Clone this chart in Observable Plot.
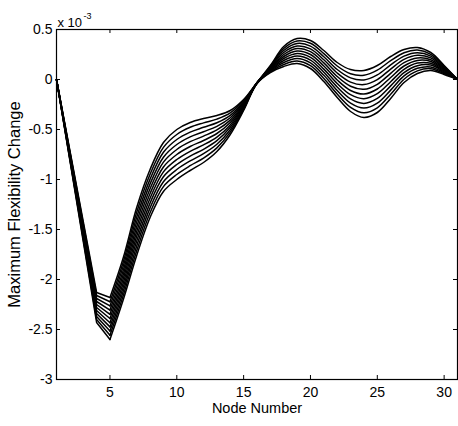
<!DOCTYPE html>
<html><head><meta charset="utf-8">
<script src="https://cdn.jsdelivr.net/npm/d3@7"></script>
<script src="https://cdn.jsdelivr.net/npm/@observablehq/plot@0.6"></script>
<style>body{margin:0;background:#fff}</style>
</head><body><div id="chart"></div>
<script>
const nodes = [1,2,3,4,5,6,7,8,9,10,11,12,13,14,15,16,17,18,19,20,21,22,23,24,25,26,27,28,29,30,31];
const s0  = [0,-0.71,-1.42,-2.13,-2.18,-1.78,-1.28,-0.90,-0.63,-0.50,-0.43,-0.39,-0.36,-0.31,-0.20,-0.03,0.14,0.33,0.41,0.39,0.29,0.17,0.10,0.09,0.14,0.23,0.30,0.32,0.27,0.14,0];
const s1  = [0,-0.72,-1.44,-2.16,-2.222,-1.822,-1.328,-0.948,-0.679,-0.55,-0.478,-0.434,-0.396,-0.334,-0.211,-0.031,0.133,0.31,0.385,0.362,0.259,0.135,0.058,0.043,0.093,0.188,0.267,0.294,0.252,0.131,0];
const s2  = [0,-0.73,-1.46,-2.19,-2.264,-1.864,-1.376,-0.996,-0.728,-0.60,-0.526,-0.478,-0.432,-0.358,-0.222,-0.032,0.126,0.29,0.36,0.334,0.228,0.10,0.016,-0.004,0.046,0.146,0.234,0.268,0.234,0.122,0];
const s3  = [0,-0.74,-1.48,-2.22,-2.306,-1.906,-1.424,-1.044,-0.777,-0.65,-0.574,-0.522,-0.468,-0.382,-0.233,-0.033,0.119,0.27,0.335,0.306,0.197,0.065,-0.026,-0.051,-0.001,0.104,0.201,0.242,0.216,0.113,0];
const s4  = [0,-0.75,-1.50,-2.25,-2.348,-1.948,-1.472,-1.092,-0.826,-0.70,-0.622,-0.566,-0.504,-0.406,-0.244,-0.034,0.112,0.25,0.31,0.278,0.166,0.03,-0.068,-0.098,-0.048,0.062,0.168,0.216,0.198,0.104,0];
const s5  = [0,-0.76,-1.52,-2.28,-2.39,-1.99,-1.52,-1.14,-0.875,-0.75,-0.67,-0.61,-0.54,-0.43,-0.255,-0.035,0.105,0.23,0.285,0.25,0.135,-0.005,-0.11,-0.145,-0.095,0.02,0.135,0.19,0.18,0.095,0];
const s6  = [0,-0.77,-1.54,-2.31,-2.432,-2.032,-1.568,-1.188,-0.924,-0.80,-0.718,-0.654,-0.576,-0.454,-0.266,-0.036,0.098,0.21,0.26,0.222,0.104,-0.04,-0.152,-0.192,-0.142,-0.022,0.102,0.164,0.162,0.086,0];
const s7  = [0,-0.78,-1.56,-2.34,-2.474,-2.074,-1.616,-1.236,-0.973,-0.85,-0.766,-0.698,-0.612,-0.478,-0.277,-0.037,0.091,0.19,0.235,0.194,0.073,-0.075,-0.194,-0.239,-0.189,-0.064,0.069,0.138,0.144,0.077,0];
const s8  = [0,-0.79,-1.58,-2.37,-2.516,-2.116,-1.664,-1.284,-1.022,-0.90,-0.814,-0.742,-0.648,-0.502,-0.288,-0.038,0.084,0.17,0.21,0.166,0.042,-0.11,-0.236,-0.286,-0.236,-0.106,0.036,0.112,0.126,0.068,0];
const s9  = [0,-0.80,-1.60,-2.40,-2.558,-2.158,-1.712,-1.332,-1.071,-0.95,-0.862,-0.786,-0.684,-0.526,-0.299,-0.039,0.077,0.15,0.185,0.138,0.011,-0.145,-0.278,-0.333,-0.283,-0.148,0.003,0.086,0.108,0.059,0];
const s10 = [0,-0.81,-1.62,-2.43,-2.60,-2.20,-1.76,-1.38,-1.12,-1.00,-0.91,-0.83,-0.72,-0.55,-0.31,-0.04,0.07,0.13,0.16,0.11,-0.02,-0.18,-0.32,-0.38,-0.33,-0.19,-0.03,0.06,0.09,0.05,0];
const series = [s0,s1,s2,s3,s4,s5,s6,s7,s8,s9,s10];
const xTicks = [5,10,15,20,25,30];
const yTicks = [0.5,0,-0.5,-1,-1.5,-2,-2.5,-3];
const xLabel = "Node Number";
const yLabel = "Maximum Flexibility Change";
const expBase = "x 10";
const expPow = "-3";

const data = series.flatMap((s,k)=>s.map((v,i)=>({node: nodes[i], value: v, series: k})));
const headData = data.filter(d => d.node <= 5);
const tailData = data.filter(d => d.node >= 5);

const chart = Plot.plot({
  width: 458, height: 426,
  marginLeft: 56, marginRight: 1, marginTop: 29, marginBottom: 47,
  style: {fontFamily: "'Liberation Sans', Arial, sans-serif", fontSize: "14px", background: "white", color: "black"},
  x: {domain: [1,31]},
  y: {domain: [-3, 0.5]},
  marks: [
    Plot.line(headData, {x: "node", y: "value", z: "series", stroke: "black", strokeWidth: 1.5}),
    Plot.line(tailData, {x: "node", y: "value", z: "series", stroke: "black", strokeWidth: 1.5, curve: "catmull-rom"}),
    Plot.frame({stroke: "black", strokeWidth: 1.2}),
    Plot.tickX(xTicks, {x: d => d, insetTop: 346, stroke: "black"}),
    Plot.tickX(xTicks, {x: d => d, insetBottom: 346, stroke: "black"}),
    Plot.tickY(yTicks, {y: d => d, insetRight: 397, stroke: "black"}),
    Plot.tickY(yTicks, {y: d => d, insetLeft: 397, stroke: "black"}),
    Plot.axisX(xTicks, {tickSize: 0, tickPadding: 8, label: null, fontSize: 14}),
    Plot.axisY(yTicks, {tickSize: 0, tickPadding: 4, tickFormat: d => String(d), label: null, fontSize: 14}),
    Plot.text([xLabel], {frameAnchor: "bottom", dy: 33, fontSize: 14.5}),
    Plot.text([yLabel], {frameAnchor: "left", textAnchor: "middle", dx: -42, rotate: -90, fontSize: 16.5}),
    Plot.text([expBase], {frameAnchor: "top-left", textAnchor: "start", dx: 1, dy: -12, fontSize: 13}),
    Plot.text([expPow], {frameAnchor: "top-left", textAnchor: "start", dx: 27, dy: -17, fontSize: 9})
  ]
});
document.getElementById("chart").appendChild(chart);
</script>
</body></html>
